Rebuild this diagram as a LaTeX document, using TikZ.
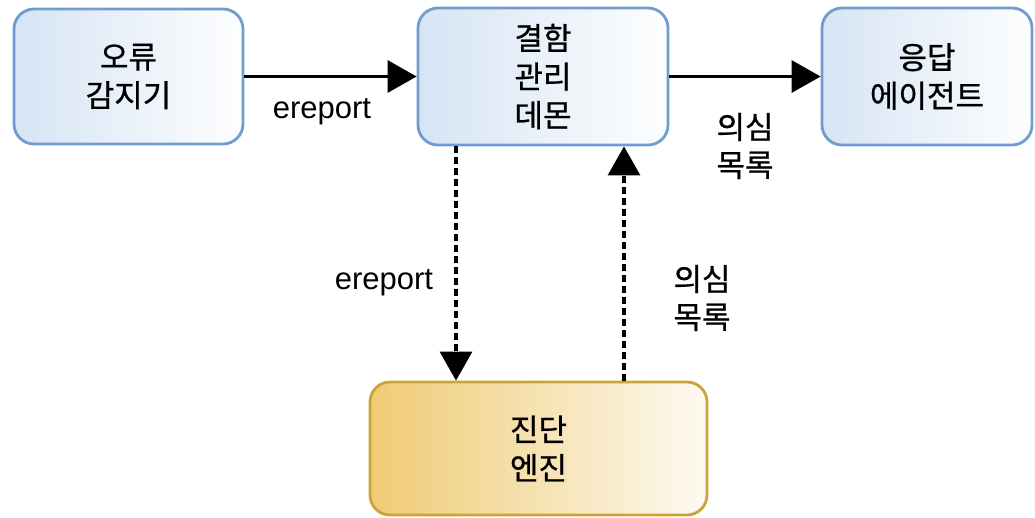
\documentclass[tikz,border=0pt]{standalone}
\usepackage{fontspec}
\setmainfont{Liberation Sans}
\newfontfamily\kr[FakeBold=0.8]{Noto Sans CJK KR}
\usetikzlibrary{positioning,calc,arrows.meta}

\definecolor{boxblue}{RGB}{214,228,244}
\definecolor{edgeblue}{RGB}{112,156,206}
\definecolor{boxgold}{RGB}{239,203,116}
\definecolor{edgegold}{RGB}{204,163,58}

\begin{document}
\begin{tikzpicture}[x=1pt,y=-1pt,
	bluebox/.style={draw=edgeblue,line width=2.8pt,rounded corners=20pt,left color=boxblue,right color=white!96!boxblue,align=center,font=\kr\fontsize{31}{38.5}\selectfont},
	goldbox/.style={draw=edgegold,line width=2.8pt,rounded corners=20pt,left color=boxgold,right color=white!90!boxgold,align=center,font=\kr\fontsize{31}{38.5}\selectfont},
	flow/.style={line width=3.2pt,-{Triangle[length=29pt,width=32pt]}},
	dflow/.style={line width=3.2pt,dash pattern=on 7pt off 4pt,-{Triangle[length=29pt,width=32pt]}},
	lbl/.style={font=\fontsize{31}{36}\selectfont},
	krlbl/.style={align=center,font=\kr\fontsize{31}{38}\selectfont}]
	\useasboundingbox (0,0) rectangle (1035,517);

	% boxes
	\node[bluebox,minimum width=229pt,minimum height=135pt] (detector) at (128.5,76.5) {오류\\감지기};
	\node[bluebox,minimum width=250pt,minimum height=137pt] (fmd) at (543,76.5) {결함\\관리\\데몬};
	\node[bluebox,minimum width=210pt,minimum height=137pt] (agent) at (927,76.5) {응답\\에이전트};
	\node[goldbox,minimum width=337pt,minimum height=133pt] (engine) at (538.5,448.5) {진단\\엔진};

	% arrows
	\draw[flow] (detector) -- (fmd);
	\draw[flow] (fmd) -- (agent);
	\draw[dflow] ([xshift=-87pt]fmd.south) -- ([xshift=-82.5pt]engine.north);
	\draw[dflow] ([xshift=85.5pt]engine.north) -- ([xshift=81pt]fmd.south);

	% labels
	\node[lbl] (ev1) at (322,112) {ereport};
	\node[krlbl] (sl1) at (745,146) {의심\\목록};
	\node[lbl] (ev2) at (384,283) {ereport};
	\node[krlbl] (sl2) at (702,298) {의심\\목록};
\end{tikzpicture}
\end{document}
